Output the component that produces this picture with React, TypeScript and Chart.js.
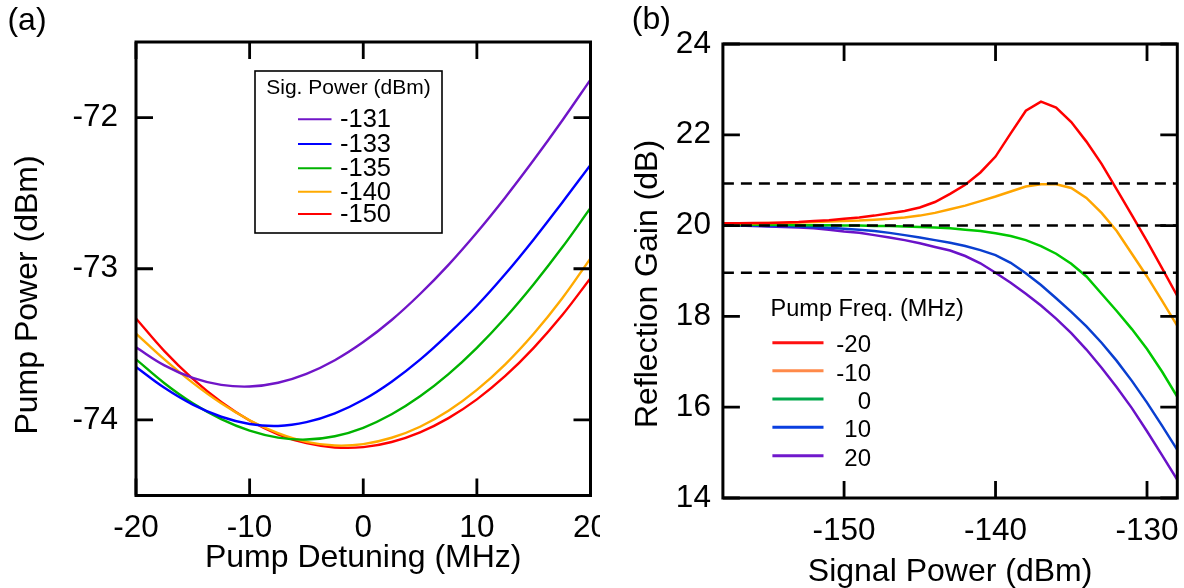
import React, { useEffect, useRef } from "react";
import { Chart, registerables } from "chart.js";

Chart.register(...registerables);

const FONT = "'Liberation Sans', Arial, Helvetica, sans-serif";

// ---------------- Panel (a) data ----------------
const detuning = [-20, -17.5, -15, -12.5, -10, -7.5, -5, -2.5, 0, 2.5, 5, 7.5, 10, 12.5, 15, 17.5, 20];
const pumpSig131 = [-73.52, -73.639, -73.722, -73.768, -73.779, -73.754, -73.695, -73.605, -73.485, -73.339, -73.167, -72.974, -72.76, -72.528, -72.281, -72.021, -71.749];
const pumpSig133 = [-73.65, -73.788, -73.899, -73.979, -74.027, -74.04, -74.015, -73.957, -73.867, -73.747, -73.601, -73.431, -73.245, -73.035, -72.806, -72.563, -72.313];
const pumpSig135 = [-73.599, -73.757, -73.89, -73.995, -74.071, -74.117, -74.13, -74.108, -74.052, -73.963, -73.844, -73.697, -73.523, -73.324, -73.102, -72.86, -72.598];
const pumpSig140 = [-73.429, -73.6, -73.755, -73.89, -74.002, -74.088, -74.145, -74.169, -74.16, -74.118, -74.045, -73.939, -73.801, -73.632, -73.43, -73.197, -72.931];
const pumpSig150 = [-73.329, -73.545, -73.729, -73.882, -74.004, -74.095, -74.154, -74.182, -74.18, -74.146, -74.082, -73.988, -73.864, -73.709, -73.523, -73.308, -73.062];
const sigPowerLabels = ["-131", "-133", "-135", "-140", "-150"];
const detuningTicks = [-20, -10, 0, 10, 20];
const pumpPowerTicks = [-74, -73, -72];

// ---------------- Panel (b) data ----------------
const signalPower = [-158, -157, -156, -155, -154, -153, -152, -151, -150, -149, -148, -147, -146, -145, -144, -143, -142, -141, -140, -139, -138, -137, -136, -135, -134, -133, -132, -131, -130, -129, -128];
const gainM20 = [20.05, 20.05, 20.06, 20.06, 20.07, 20.08, 20.1, 20.12, 20.15, 20.18, 20.22, 20.27, 20.32, 20.4, 20.52, 20.7, 20.9, 21.17, 21.52, 22.03, 22.53, 22.73, 22.6, 22.28, 21.85, 21.36, 20.8, 20.23, 19.66, 19.06, 18.45];
const gainM10 = [20.05, 20.05, 20.05, 20.06, 20.06, 20.07, 20.08, 20.09, 20.1, 20.11, 20.13, 20.15, 20.18, 20.22, 20.28, 20.36, 20.44, 20.54, 20.64, 20.75, 20.86, 20.91, 20.91, 20.83, 20.61, 20.28, 19.88, 19.38, 18.88, 18.34, 17.79];
const gain0 = [20.02, 20.02, 20.02, 20.02, 20.02, 20.01, 20.01, 20.01, 20.0, 20.0, 19.99, 19.99, 19.98, 19.97, 19.96, 19.94, 19.91, 19.88, 19.83, 19.77, 19.68, 19.55, 19.38, 19.16, 18.88, 18.5, 18.12, 17.72, 17.28, 16.78, 16.23];
const gainP10 = [20.0, 20.0, 20.0, 19.99, 19.99, 19.98, 19.97, 19.95, 19.93, 19.91, 19.88, 19.84, 19.79, 19.74, 19.68, 19.62, 19.55, 19.46, 19.35, 19.18, 18.95, 18.69, 18.4, 18.1, 17.78, 17.42, 17.02, 16.58, 16.1, 15.59, 15.06];
const gainP20 = [20.0, 20.0, 19.99, 19.98, 19.97, 19.96, 19.94, 19.91, 19.87, 19.84, 19.79, 19.74, 19.68, 19.61, 19.53, 19.45, 19.33, 19.17, 18.96, 18.74, 18.5, 18.24, 17.95, 17.63, 17.27, 16.87, 16.44, 15.98, 15.47, 14.94, 14.4];
const pumpFreqLabels = ["-20", "-10", "0", "10", "20"];
const referenceGains = [20.93, 20.0, 18.96];
const signalPowerTicks = [-150, -140, -130];
const gainTicks = [14, 16, 18, 20, 22, 24];

// ---------------- text ----------------
const PANEL_A = "(a)";
const PANEL_B = "(b)";
const X_TITLE_A = "Pump Detuning (MHz)";
const Y_TITLE_A = "Pump Power (dBm)";
const X_TITLE_B = "Signal Power (dBm)";
const Y_TITLE_B = "Reflection Gain (dB)";
const LEGEND_TITLE_A = "Sig. Power (dBm)";
const LEGEND_TITLE_B = "Pump Freq. (MHz)";

const colorsA = ["#7015c8", "#0000ff", "#00b300", "#ffaa00", "#ff0000"];
const colorsB = ["#ff0000", "#ffa500", "#00c800", "#0a3fd0", "#6a12c8"];
const legendColorsB = ["#ff1010", "#ff8a4a", "#00a84a", "#0a3fe0", "#7018cc"];

const TICK_SIZE = 31.5;
const TITLE_SIZE = 32;

function drawFrame(chart: any, tickLen: number) {
  const { ctx, chartArea: a, scales } = chart;
  const xs = scales.x;
  const ys = scales.y;
  ctx.save();
  ctx.strokeStyle = "#000";
  ctx.lineWidth = 2.8;
  ctx.beginPath();
  xs.ticks.forEach((t: any) => {
    const p = xs.getPixelForValue(t.value);
    ctx.moveTo(p, a.bottom);
    ctx.lineTo(p, a.bottom - tickLen);
    ctx.moveTo(p, a.top);
    ctx.lineTo(p, a.top + tickLen);
  });
  ys.ticks.forEach((t: any) => {
    const p = ys.getPixelForValue(t.value);
    ctx.moveTo(a.left, p);
    ctx.lineTo(a.left + tickLen, p);
    ctx.moveTo(a.right, p);
    ctx.lineTo(a.right - tickLen, p);
  });
  ctx.stroke();
  ctx.lineWidth = 3;
  ctx.strokeRect(a.left, a.top, a.right - a.left, a.bottom - a.top);
  ctx.restore();
}

function drawRotated(ctx: any, text: string, x: number, y: number, size: number) {
  ctx.save();
  ctx.translate(x, y);
  ctx.rotate(-Math.PI / 2);
  ctx.font = `${size}px ${FONT}`;
  ctx.fillStyle = "#000";
  ctx.textAlign = "center";
  ctx.textBaseline = "middle";
  ctx.fillText(text, 0, 0);
  ctx.restore();
}

const overlayA = {
  id: "overlayA",
  afterDraw(chart: any) {
    const ctx = chart.ctx;
    drawFrame(chart, 17);
    ctx.save();
    ctx.fillStyle = "#000";
    ctx.textAlign = "center";
    ctx.textBaseline = "middle";
    ctx.font = `${TITLE_SIZE}px ${FONT}`;
    ctx.fillText(PANEL_A, 27, 21.5);
    ctx.restore();
    drawRotated(ctx, Y_TITLE_A, 28, 295, TITLE_SIZE);
    // legend box
    ctx.save();
    ctx.fillStyle = "#fff";
    ctx.fillRect(255, 71, 187, 162);
    ctx.strokeStyle = "#000";
    ctx.lineWidth = 1.6;
    ctx.strokeRect(255, 71, 187, 162);
    ctx.fillStyle = "#000";
    ctx.textAlign = "center";
    ctx.textBaseline = "middle";
    ctx.font = `21px ${FONT}`;
    ctx.fillText(LEGEND_TITLE_A, 348.5, 88);
    const rows = [119.3, 144, 168.3, 191.7, 214];
    ctx.font = `25.5px ${FONT}`;
    ctx.textAlign = "left";
    chart.data.datasets.forEach((ds: any, i: number) => {
      ctx.strokeStyle = ds.borderColor;
      ctx.lineWidth = 2;
      ctx.beginPath();
      ctx.moveTo(298, rows[i]);
      ctx.lineTo(331.5, rows[i]);
      ctx.stroke();
      ctx.fillText(sigPowerLabels[i], 340, rows[i] + 1);
    });
    ctx.restore();
  },
};

const overlayB = {
  id: "overlayB",
  afterDraw(chart: any) {
    const ctx = chart.ctx;
    drawFrame(chart, 17);
    ctx.save();
    ctx.fillStyle = "#000";
    ctx.textAlign = "center";
    ctx.textBaseline = "middle";
    ctx.font = `${TITLE_SIZE}px ${FONT}`;
    ctx.fillText(PANEL_B, 51.4, 20);
    ctx.restore();
    drawRotated(ctx, Y_TITLE_B, 48.5, 284, TITLE_SIZE);
    ctx.save();
    ctx.fillStyle = "#000";
    ctx.textBaseline = "middle";
    ctx.textAlign = "left";
    ctx.font = `23.5px ${FONT}`;
    ctx.fillText(LEGEND_TITLE_B, 170.6, 309.5);
    const lineRows = [342.7, 370.7, 399, 427.3, 455.7];
    const textRows = [345.7, 374.3, 402.3, 430.7, 459];
    ctx.font = `24px ${FONT}`;
    ctx.textAlign = "right";
    pumpFreqLabels.forEach((lab, i) => {
      ctx.strokeStyle = legendColorsB[i];
      ctx.lineWidth = 3;
      ctx.beginPath();
      ctx.moveTo(172.4, lineRows[i]);
      ctx.lineTo(223.5, lineRows[i]);
      ctx.stroke();
      ctx.fillText(lab, 271, textRows[i]);
    });
    ctx.restore();
  },
};

function tickFont(size: number) {
  return { family: FONT, size, lineHeight: 1 };
}

export default function App() {
  const refA = useRef<HTMLCanvasElement>(null);
  const refB = useRef<HTMLCanvasElement>(null);

  useEffect(() => {
    const seriesA = [pumpSig131, pumpSig133, pumpSig135, pumpSig140, pumpSig150];
    const chartA = new Chart(refA.current as HTMLCanvasElement, {
      type: "line",
      data: {
        datasets: seriesA.map((s, i) => ({
          label: sigPowerLabels[i],
          data: detuning.map((x, j) => ({ x, y: s[j] })),
          borderColor: colorsA[i],
          borderWidth: 2.4,
          pointRadius: 0,
          tension: 0.4,
          fill: false,
        })),
      },
      options: {
        animation: false,
        responsive: false,
        devicePixelRatio: 1,
        layout: { padding: { left: 0, top: 42, right: 9.5, bottom: 0 } },
        plugins: { legend: { display: false }, tooltip: { enabled: false } },
        scales: {
          x: {
            type: "linear",
            min: -20,
            max: 20,
            afterBuildTicks: (s: any) => {
              s.ticks = detuningTicks.map((v) => ({ value: v }));
            },
            afterFit: (s: any) => {
              s.height = 92.5;
              s.paddingLeft = 0;
              s.paddingRight = 0;
            },
            ticks: {
              color: "#000",
              font: tickFont(TICK_SIZE),
              padding: 17,
              maxRotation: 0,
              autoSkip: false,
              callback: (v: any) => String(v),
            },
            grid: { display: false, drawTicks: false },
            border: { display: false },
            title: {
              display: true,
              text: X_TITLE_A,
              color: "#000",
              font: { family: FONT, size: TITLE_SIZE, lineHeight: 1 },
              padding: { top: 0, bottom: 14 },
            },
          },
          y: {
            type: "linear",
            min: -74.5,
            max: -71.5,
            afterBuildTicks: (s: any) => {
              s.ticks = pumpPowerTicks.map((v) => ({ value: v }));
            },
            afterFit: (s: any) => {
              s.width = 136;
              s.paddingTop = 0;
              s.paddingBottom = 0;
            },
            ticks: {
              color: "#000",
              font: tickFont(TICK_SIZE),
              padding: 18,
              autoSkip: false,
              callback: (v: any) => String(v),
            },
            grid: { display: false, drawTicks: false },
            border: { display: false },
          },
        },
      } as any,
      plugins: [overlayA],
    });

    const seriesB = [gainM20, gainM10, gain0, gainP10, gainP20];
    const curveSets = seriesB.map((s, i) => ({
      label: pumpFreqLabels[i],
      data: signalPower.map((x, j) => ({ x, y: s[j] })),
      borderColor: colorsB[i],
      borderWidth: 2.5,
      pointRadius: 0,
      tension: 0,
      fill: false,
    }));
    const refSets = referenceGains.map((g) => ({
      label: "ref",
      data: [
        { x: signalPower[0], y: g },
        { x: signalPower[signalPower.length - 1], y: g },
      ],
      borderColor: "#000",
      borderWidth: 2.5,
      borderDash: [11, 7],
      pointRadius: 0,
      tension: 0,
      fill: false,
    }));
    const chartB = new Chart(refB.current as HTMLCanvasElement, {
      type: "line",
      data: { datasets: [...refSets, ...curveSets] },
      options: {
        animation: false,
        responsive: false,
        devicePixelRatio: 1,
        layout: { padding: { left: 0, top: 44, right: 6.7, bottom: 0 } },
        plugins: { legend: { display: false }, tooltip: { enabled: false } },
        scales: {
          x: {
            type: "linear",
            min: -158,
            max: -128,
            afterBuildTicks: (s: any) => {
              s.ticks = signalPowerTicks.map((v) => ({ value: v }));
            },
            afterFit: (s: any) => {
              s.height = 90;
              s.paddingLeft = 0;
              s.paddingRight = 0;
            },
            ticks: {
              color: "#000",
              font: tickFont(TICK_SIZE),
              padding: 17.5,
              maxRotation: 0,
              autoSkip: false,
              callback: (v: any) => String(v),
            },
            grid: { display: false, drawTicks: false },
            border: { display: false },
            title: {
              display: true,
              text: X_TITLE_B,
              color: "#000",
              font: { family: FONT, size: TITLE_SIZE, lineHeight: 1 },
              padding: { top: 0, bottom: 0 },
            },
          },
          y: {
            type: "linear",
            min: 14,
            max: 24,
            afterBuildTicks: (s: any) => {
              s.ticks = gainTicks.map((v) => ({ value: v }));
            },
            afterFit: (s: any) => {
              s.width = 122.9;
              s.paddingTop = 0;
              s.paddingBottom = 0;
            },
            ticks: {
              color: "#000",
              font: tickFont(TICK_SIZE),
              padding: 12,
              autoSkip: false,
              callback: (v: any) => String(v),
            },
            grid: { display: false, drawTicks: false },
            border: { display: false },
          },
        },
      } as any,
      plugins: [overlayB],
    });

    return () => {
      chartA.destroy();
      chartB.destroy();
    };
  }, []);

  return (
    <div style={{ position: "absolute", left: 0, top: 0, width: 1184, height: 588, background: "#fff" }}>
      <canvas ref={refA} width={600} height={588} style={{ position: "absolute", left: 0, top: 0 }} />
      <canvas ref={refB} width={584} height={588} style={{ position: "absolute", left: 600, top: 0 }} />
    </div>
  );
}
